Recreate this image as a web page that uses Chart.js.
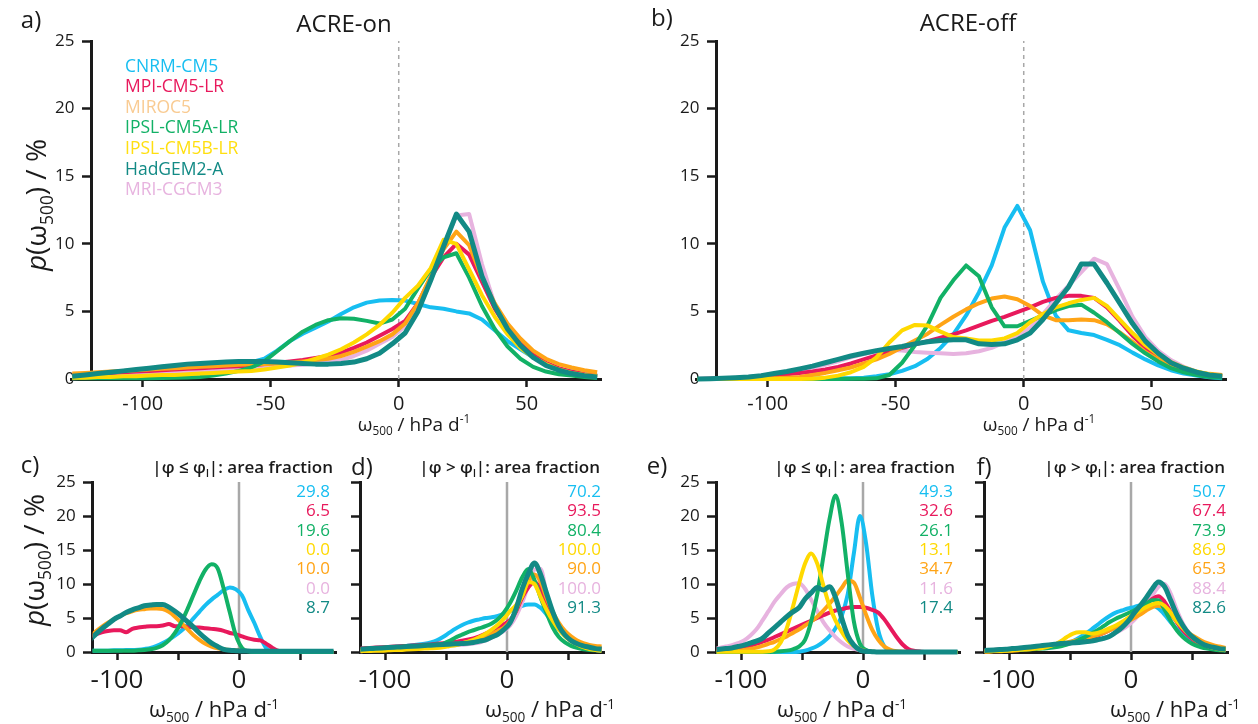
<!DOCTYPE html>
<html>
<head>
<meta charset="utf-8">
<title>p(omega500) distributions</title>
<script src="https://cdn.jsdelivr.net/npm/chart.js@4.4.1/dist/chart.umd.min.js"></script>
<style>
  body { margin: 0; background: #fff; font-family: "Open Sans", sans-serif; }
  #wrap { position: relative; width: 1258px; height: 724px; overflow: hidden; }
  canvas { position: absolute; left: 0; top: 0; }
  .t { position: absolute; white-space: nowrap; color: #1a1a1a; line-height: 1; }
  .c { transform: translate(-50%, -50%); }
  .rot { transform: translate(-50%, -50%) rotate(-90deg); }
  .r { transform: translateY(-50%); text-align: right; }
  sub { font-size: 0.62em; vertical-align: -0.4em; line-height: 0; }
  sup { font-size: 0.62em; vertical-align: 0.6em; line-height: 0; }
  .hdr { font-weight: 600; font-size: 17px; }
</style>
</head>
<body>
<div id="wrap">
  <canvas id="pa" width="1258" height="724"></canvas>
  <canvas id="pb" width="1258" height="724"></canvas>
  <canvas id="pc" width="1258" height="724"></canvas>
  <canvas id="pd" width="1258" height="724"></canvas>
  <canvas id="pe" width="1258" height="724"></canvas>
  <canvas id="pf" width="1258" height="724"></canvas>

  <div class="t c" style="left:31px;top:19px;font-size:24px">a)</div>
  <div class="t c" style="left:344px;top:23px;font-size:24px">ACRE-on</div>
  <div class="t c" style="left:662px;top:17px;font-size:24px">b)</div>
  <div class="t c" style="left:968px;top:22px;font-size:24px">ACRE-off</div>

  <div class="t rot" style="left:35px;top:205px;font-size:28px"><i>p</i>(ω<sub>500</sub>) / %</div>
  <div class="t c" style="left:414px;top:424px;font-size:19px">ω<sub>500</sub> / hPa d<sup>-1</sup></div>
  <div class="t c" style="left:1039px;top:424px;font-size:19px">ω<sub>500</sub> / hPa d<sup>-1</sup></div>

  <div class="t c" style="left:30px;top:464px;font-size:24px">c)</div>
  <div class="t c" style="left:362px;top:466px;font-size:24px">d)</div>
  <div class="t c" style="left:657px;top:465px;font-size:24px">e)</div>
  <div class="t c" style="left:984px;top:466px;font-size:24px">f)</div>

  <div class="t r hdr" style="right:925px;top:466px">|φ ≤ φ<sub>l</sub>|: area fraction</div>
  <div class="t r hdr" style="right:658px;top:466px">|φ &gt; φ<sub>l</sub>|: area fraction</div>
  <div class="t r hdr" style="right:303px;top:466px">|φ ≤ φ<sub>l</sub>|: area fraction</div>
  <div class="t r hdr" style="right:33px;top:466px">|φ &gt; φ<sub>l</sub>|: area fraction</div>

  <div class="t rot" style="left:33px;top:560px;font-size:28px"><i>p</i>(ω<sub>500</sub>) / %</div>
  <div class="t c" style="left:214px;top:708px;font-size:22px">ω<sub>500</sub> / hPa d<sup>-1</sup></div>
  <div class="t c" style="left:550px;top:708px;font-size:22px">ω<sub>500</sub> / hPa d<sup>-1</sup></div>
  <div class="t c" style="left:842px;top:708px;font-size:22px">ω<sub>500</sub> / hPa d<sup>-1</sup></div>
  <div class="t c" style="left:1175px;top:708px;font-size:22px">ω<sub>500</sub> / hPa d<sup>-1</sup></div>
</div>

<script>
// bin centres (hPa/d)
const omegaTop = [-127.5, -122.5, -117.5, -112.5, -107.5, -102.5, -97.5, -92.5, -87.5, -82.5, -77.5, -72.5, -67.5, -62.5, -57.5, -52.5, -47.5, -42.5, -37.5, -32.5, -27.5, -22.5, -17.5, -12.5, -7.5, -2.5, 2.5, 7.5, 12.5, 17.5, 22.5, 27.5, 32.5, 37.5, 42.5, 47.5, 52.5, 57.5, 62.5, 67.5, 72.5, 77.5];
const omegaBottom = [-122.5, -117.5, -112.5, -107.5, -102.5, -97.5, -92.5, -87.5, -82.5, -77.5, -72.5, -67.5, -62.5, -57.5, -52.5, -47.5, -42.5, -37.5, -32.5, -27.5, -22.5, -17.5, -12.5, -7.5, -2.5, 2.5, 7.5, 12.5, 17.5, 22.5, 27.5, 32.5, 37.5, 42.5, 47.5, 52.5, 57.5, 62.5, 67.5, 72.5, 77.5];

const xTicks = [-100, -50, 0, 50];
const yTicks = [0, 5, 10, 15, 20, 25];

// legend / model names
const modelKeys = ["CNRM", "MPI", "MIROC", "IPSLA", "IPSLB", "HadGEM", "MRI"];
const modelNames = ["CNRM-CM5", "MPI-CM5-LR", "MIROC5", "IPSL-CM5A-LR", "IPSL-CM5B-LR", "HadGEM2-A", "MRI-CGCM3"];

// a) ACRE-on, all latitudes
const aCNRM = [0.2, 0.3, 0.4, 0.5, 0.6, 0.65, 0.75, 0.85, 0.95, 1.0, 1.05, 1.1, 1.15, 1.2, 1.25, 1.5, 2.1, 2.8, 3.35, 3.8, 4.25, 4.8, 5.3, 5.65, 5.8, 5.85, 5.8, 5.55, 5.3, 5.2, 5.0, 4.85, 4.4, 3.6, 2.8, 2.2, 1.6, 1.1, 0.75, 0.55, 0.35, 0.25];
const aMPI = [0.3, 0.35, 0.4, 0.45, 0.5, 0.55, 0.6, 0.65, 0.7, 0.75, 0.8, 0.85, 0.9, 0.95, 1.0, 1.1, 1.2, 1.3, 1.4, 1.55, 1.7, 1.95, 2.3, 2.7, 3.2, 3.7, 4.3, 5.6, 7.5, 9.0, 10.0, 9.2, 7.2, 5.2, 3.7, 2.6, 1.8, 1.2, 0.8, 0.55, 0.35, 0.25];
const aMIROC = [0.4, 0.45, 0.5, 0.55, 0.6, 0.65, 0.7, 0.75, 0.8, 0.85, 0.9, 0.95, 1.0, 1.05, 1.1, 1.1, 1.15, 1.2, 1.3, 1.4, 1.5, 1.7, 2.0, 2.4, 2.8, 3.3, 4.1, 5.6, 7.6, 9.6, 10.9, 9.9, 7.5, 5.6, 4.1, 3.0, 2.1, 1.5, 1.1, 0.85, 0.65, 0.5];
const aIPSLA = [0.05, 0.05, 0.05, 0.05, 0.05, 0.05, 0.05, 0.08, 0.1, 0.12, 0.15, 0.25, 0.4, 0.6, 0.85, 1.3, 2.05, 2.8, 3.5, 4.0, 4.35, 4.5, 4.45, 4.3, 4.1, 4.4, 5.2, 6.7, 8.1, 9.0, 9.3, 7.5, 5.4, 3.7, 2.4, 1.5, 0.9, 0.55, 0.35, 0.25, 0.15, 0.08];
const aIPSLB = [0.1, 0.1, 0.15, 0.15, 0.2, 0.2, 0.25, 0.3, 0.3, 0.35, 0.4, 0.45, 0.5, 0.55, 0.6, 0.7, 0.85, 1.0, 1.2, 1.5, 1.8, 2.2, 2.7, 3.3, 4.0, 4.9, 6.0, 6.9, 8.2, 10.3, 10.0, 8.1, 6.2, 4.6, 3.3, 2.3, 1.6, 1.1, 0.7, 0.45, 0.3, 0.2];
const aHadGEM = [0.2, 0.3, 0.4, 0.5, 0.6, 0.7, 0.8, 0.9, 1.0, 1.1, 1.15, 1.2, 1.25, 1.3, 1.3, 1.3, 1.25, 1.2, 1.15, 1.1, 1.1, 1.15, 1.25, 1.5, 1.9, 2.6, 3.4, 5.0, 7.3, 9.8, 12.2, 10.9, 7.6, 5.4, 3.7, 2.5, 1.6, 1.0, 0.65, 0.4, 0.25, 0.15];
const aMRI = [0.05, 0.1, 0.15, 0.2, 0.25, 0.3, 0.35, 0.4, 0.45, 0.5, 0.55, 0.6, 0.7, 0.75, 0.85, 0.9, 0.95, 1.0, 1.05, 1.15, 1.25, 1.4, 1.7, 2.1, 2.6, 3.1, 3.9, 5.3, 7.3, 9.8, 12.1, 12.2, 8.5, 5.5, 3.9, 2.6, 1.7, 1.1, 0.7, 0.45, 0.3, 0.2];

// b) ACRE-off, all latitudes
const bCNRM = [0, 0, 0, 0, 0, 0, 0, 0.01, 0.02, 0.03, 0.04, 0.05, 0.05, 0.1, 0.2, 0.35, 0.6, 0.95, 1.5, 2.3, 3.3, 4.7, 6.4, 8.4, 11.2, 12.8, 11.0, 7.2, 4.7, 3.6, 3.4, 3.25, 2.9, 2.5, 1.95, 1.45, 1.0, 0.65, 0.4, 0.25, 0.12, 0.05];
const bMPI = [0, 0.02, 0.05, 0.08, 0.12, 0.18, 0.25, 0.35, 0.45, 0.55, 0.7, 0.9, 1.15, 1.45, 1.75, 2.0, 2.3, 2.55, 2.8, 3.05, 3.3, 3.6, 3.95, 4.3, 4.6, 4.95, 5.3, 5.7, 6.0, 6.15, 6.15, 6.0, 5.3, 4.3, 3.2, 2.3, 1.6, 1.1, 0.7, 0.45, 0.3, 0.2];
const bMIROC = [0, 0, 0, 0.02, 0.05, 0.05, 0.05, 0.1, 0.15, 0.3, 0.45, 0.65, 0.85, 1.15, 1.45, 1.85, 2.35, 2.85, 3.35, 4.0, 4.6, 5.15, 5.6, 5.95, 6.1, 5.9, 5.4, 4.7, 4.35, 4.35, 4.4, 4.35, 4.05, 3.45, 2.75, 2.0, 1.45, 1.0, 0.7, 0.5, 0.38, 0.3];
const bIPSLA = [0, 0, 0, 0, 0, 0, 0, 0, 0, 0, 0, 0, 0.01, 0.02, 0.05, 0.3, 1.2, 2.5, 4.0, 6.0, 7.3, 8.4, 7.6, 5.3, 3.9, 3.9, 4.3, 4.7, 5.1, 5.4, 5.5, 4.9, 4.2, 3.4, 2.6, 1.9, 1.3, 0.8, 0.5, 0.3, 0.15, 0.1];
const bIPSLB = [0, 0, 0, 0, 0, 0, 0, 0, 0, 0.02, 0.1, 0.25, 0.5, 0.9, 1.6, 2.7, 3.6, 4.0, 3.95, 3.5, 3.1, 3.0, 2.85, 2.85, 3.0, 3.4, 4.2, 4.8, 5.3, 5.6, 5.85, 6.0, 5.4, 4.4, 3.4, 2.5, 1.8, 1.25, 0.85, 0.55, 0.35, 0.2];
const bHadGEM = [0, 0.02, 0.05, 0.1, 0.15, 0.25, 0.4, 0.55, 0.75, 0.95, 1.2, 1.45, 1.7, 1.9, 2.1, 2.25, 2.4, 2.6, 2.75, 2.85, 2.9, 2.9, 2.6, 2.55, 2.6, 2.9, 3.4, 4.4, 5.6, 6.8, 8.5, 8.5, 7.1, 5.6, 4.1, 2.8, 1.9, 1.2, 0.8, 0.5, 0.3, 0.2];
const bMRI = [0, 0.03, 0.06, 0.1, 0.15, 0.25, 0.35, 0.5, 0.65, 0.85, 1.05, 1.3, 1.6, 1.85, 2.05, 2.15, 2.1, 2.0, 1.95, 1.9, 1.85, 1.9, 2.05, 2.3, 2.7, 3.2, 3.8, 4.8, 5.9, 6.9, 7.9, 8.9, 8.5, 6.6, 4.6, 3.1, 2.1, 1.4, 0.9, 0.55, 0.3, 0.15];

// c) ACRE-on, |phi| <= phi_l  (IPSL-CM5B-LR and MRI-CGCM3 have no area here)
const cCNRM = [0.2, 0.2, 0.2, 0.2, 0.25, 0.25, 0.3, 0.3, 0.35, 0.45, 0.6, 0.9, 1.3, 1.8, 2.4, 3.1, 3.9, 4.9, 5.9, 6.9, 7.7, 8.4, 9.1, 9.5, 9.2, 8.3, 6.2, 4.3, 2.2, 0.5, 0.1, 0, 0, 0, 0, 0, 0, 0, 0, 0, 0];
const cMPI = [2.2, 2.6, 2.9, 3.1, 3.2, 3.2, 2.9, 3.4, 3.6, 3.7, 3.8, 3.8, 3.9, 4.1, 3.8, 3.8, 3.7, 3.6, 3.6, 3.5, 3.4, 3.3, 3.1, 2.8, 2.6, 2.3, 2.0, 1.8, 1.7, 1.2, 0.6, 0.15, 0.05, 0, 0, 0, 0, 0, 0, 0, 0];
const cMIROC = [2.2, 3.0, 3.7, 4.3, 4.8, 5.3, 5.7, 6.0, 6.2, 6.3, 6.4, 6.4, 6.3, 5.9, 5.2, 4.3, 3.4, 2.5, 1.8, 1.2, 0.8, 0.55, 0.4, 0.3, 0.25, 0.2, 0.15, 0.1, 0.05, 0, 0, 0, 0, 0, 0, 0, 0, 0, 0, 0, 0];
const cIPSLA = [0.2, 0.2, 0.2, 0.2, 0.2, 0.2, 0.2, 0.2, 0.25, 0.3, 0.4, 0.6, 1.0, 1.7, 2.8, 4.3, 6.2, 8.3, 10.4, 12.1, 12.9, 12.3, 9.3, 5.8, 2.4, 0.6, 0.1, 0, 0, 0, 0, 0, 0, 0, 0, 0, 0, 0, 0, 0, 0];
const cHadGEM = [1.7, 2.6, 3.4, 4.1, 4.8, 5.3, 5.8, 6.2, 6.5, 6.8, 6.9, 7.0, 7.0, 6.6, 6.0, 5.3, 4.5, 3.7, 2.8, 2.0, 1.3, 0.8, 0.4, 0.25, 0.2, 0.15, 0.15, 0.1, 0.1, 0.1, 0.1, 0.1, 0.1, 0.1, 0.1, 0.1, 0.1, 0.1, 0.1, 0.1, 0.1];

// d) ACRE-on, |phi| > phi_l
const dCNRM = [0.4, 0.45, 0.5, 0.55, 0.6, 0.7, 0.75, 0.8, 0.9, 1.0, 1.1, 1.2, 1.4, 1.7, 2.2, 2.8, 3.4, 3.9, 4.3, 4.6, 4.8, 5.0, 5.1, 5.3, 5.6, 6.0, 6.4, 6.8, 7.0, 7.0, 6.5, 5.5, 4.4, 3.3, 2.5, 1.9, 1.5, 1.2, 0.9, 0.7, 0.6];
const dMPI = [0.5, 0.55, 0.6, 0.65, 0.7, 0.75, 0.8, 0.85, 0.9, 0.95, 1.0, 1.05, 1.1, 1.2, 1.3, 1.4, 1.5, 1.65, 1.8, 2.0, 2.3, 2.7, 3.1, 3.6, 4.1, 4.7, 6.0, 8.0, 9.5, 10.3, 9.3, 7.2, 5.2, 3.7, 2.6, 1.8, 1.3, 0.9, 0.7, 0.5, 0.4];
const dMIROC = [0.4, 0.45, 0.5, 0.55, 0.6, 0.65, 0.7, 0.75, 0.8, 0.85, 0.9, 0.95, 1.0, 1.05, 1.1, 1.15, 1.2, 1.3, 1.45, 1.6, 1.85, 2.2, 2.6, 3.1, 3.6, 4.5, 6.2, 8.4, 10.4, 11.4, 10.3, 7.9, 5.9, 4.3, 3.1, 2.3, 1.7, 1.3, 1.05, 0.9, 0.8];
const dIPSLA = [0.3, 0.3, 0.3, 0.35, 0.35, 0.4, 0.4, 0.45, 0.5, 0.55, 0.6, 0.7, 0.8, 0.95, 1.2, 1.6, 2.1, 2.5, 2.9, 3.2, 3.5, 3.8, 4.2, 4.8, 5.8, 7.2, 9.0, 11.0, 12.2, 10.6, 8.0, 5.7, 3.6, 2.2, 1.4, 0.9, 0.6, 0.4, 0.3, 0.25, 0.2];
const dIPSLB = [0.1, 0.15, 0.15, 0.2, 0.2, 0.25, 0.3, 0.3, 0.35, 0.4, 0.45, 0.5, 0.55, 0.6, 0.7, 0.85, 1.0, 1.2, 1.5, 1.8, 2.2, 2.7, 3.3, 4.0, 4.9, 6.0, 6.9, 8.2, 10.3, 10.0, 8.1, 6.2, 4.6, 3.3, 2.3, 1.6, 1.1, 0.7, 0.45, 0.3, 0.2];
const dHadGEM = [0.4, 0.45, 0.5, 0.55, 0.6, 0.65, 0.7, 0.75, 0.8, 0.85, 0.9, 0.95, 1.0, 1.05, 1.1, 1.15, 1.2, 1.25, 1.3, 1.4, 1.6, 1.8, 2.2, 2.6, 3.3, 4.3, 6.4, 9.3, 11.5, 13.1, 11.4, 8.6, 5.9, 3.8, 2.5, 1.7, 1.2, 0.9, 0.7, 0.5, 0.4];
const dMRI = [0.1, 0.15, 0.2, 0.25, 0.3, 0.35, 0.4, 0.45, 0.5, 0.55, 0.6, 0.7, 0.75, 0.85, 0.9, 0.95, 1.0, 1.05, 1.15, 1.25, 1.4, 1.7, 2.1, 2.6, 3.1, 3.9, 5.3, 7.3, 9.8, 12.1, 12.2, 8.5, 5.5, 3.9, 2.6, 1.7, 1.1, 0.7, 0.45, 0.3, 0.2];

// e) ACRE-off, |phi| <= phi_l
const eCNRM = [0, 0, 0, 0, 0, 0, 0, 0, 0, 0, 0, 0, 0, 0, 0.05, 0.2, 0.5, 0.9, 1.5, 2.3, 3.5, 5.3, 8.5, 14.5, 20.0, 16.0, 8.5, 3.2, 0.8, 0.2, 0.05, 0, 0, 0, 0, 0, 0, 0, 0, 0, 0];
const eMPI = [0.2, 0.3, 0.4, 0.5, 0.6, 0.75, 0.95, 1.2, 1.5, 1.8, 2.2, 2.6, 3.0, 3.4, 3.8, 4.2, 4.6, 5.0, 5.4, 5.8, 6.1, 6.3, 6.5, 6.6, 6.6, 6.5, 6.2, 5.8, 4.8, 3.5, 2.2, 1.1, 0.4, 0.15, 0.05, 0, 0, 0, 0, 0, 0];
const eMIROC = [0.05, 0.05, 0.1, 0.15, 0.2, 0.3, 0.45, 0.65, 0.9, 1.2, 1.5, 1.9, 2.3, 2.8, 3.3, 3.9, 4.5, 5.2, 6.1, 7.1, 8.2, 9.4, 10.5, 10.2, 8.0, 5.5, 3.3, 1.8, 0.8, 0.3, 0.1, 0.05, 0, 0, 0, 0, 0, 0, 0, 0, 0];
const eIPSLA = [0, 0, 0, 0, 0, 0, 0, 0, 0, 0, 0.05, 0.1, 0.2, 0.4, 0.8, 1.8, 4.5, 8.5, 14.0, 19.5, 23.0, 19.0, 11.5, 4.5, 1.2, 0.3, 0.05, 0, 0, 0, 0, 0, 0, 0, 0, 0, 0, 0, 0, 0, 0];
const eIPSLB = [0.05, 0.05, 0.05, 0.05, 0.05, 0.05, 0.05, 0.05, 0.05, 0.1, 0.4, 1.4, 3.5, 6.6, 10.0, 13.0, 14.5, 13.0, 9.8, 6.8, 4.6, 3.0, 1.7, 0.9, 0.4, 0.15, 0.05, 0, 0, 0, 0, 0, 0, 0, 0, 0, 0, 0, 0, 0, 0];
const eHadGEM = [0.3, 0.4, 0.5, 0.6, 0.8, 1.0, 1.3, 1.6, 2.0, 2.8, 3.6, 4.4, 5.2, 5.9, 6.5, 7.8, 8.7, 9.5, 9.1, 9.6, 8.0, 5.0, 2.4, 1.0, 0.3, 0.1, 0.05, 0, 0, 0, 0, 0, 0, 0, 0, 0, 0, 0, 0, 0, 0];
const eMRI = [0.5, 0.6, 0.8, 1.0, 1.3, 1.7, 2.4, 3.3, 4.6, 6.0, 7.4, 8.5, 9.5, 10.0, 10.1, 9.3, 7.7, 6.0, 4.4, 3.2, 2.2, 1.4, 0.8, 0.45, 0.25, 0.1, 0.05, 0, 0, 0, 0, 0, 0, 0, 0, 0, 0, 0, 0, 0, 0];

// f) ACRE-off, |phi| > phi_l
const fCNRM = [0.2, 0.2, 0.25, 0.3, 0.35, 0.4, 0.45, 0.5, 0.55, 0.6, 0.65, 0.7, 0.8, 0.95, 1.2, 1.6, 2.1, 2.7, 3.3, 4.0, 4.7, 5.3, 5.8, 6.1, 6.4, 6.6, 6.9, 7.0, 6.9, 6.4, 5.5, 4.4, 3.4, 2.6, 1.9, 1.4, 1.0, 0.75, 0.55, 0.4, 0.3];
const fMPI = [0.2, 0.25, 0.3, 0.35, 0.4, 0.45, 0.5, 0.55, 0.6, 0.7, 0.8, 0.9, 1.0, 1.1, 1.3, 1.5, 1.7, 1.9, 2.1, 2.4, 2.8, 3.2, 3.7, 4.2, 4.8, 5.5, 6.2, 7.0, 7.8, 8.2, 7.4, 5.9, 4.4, 3.2, 2.3, 1.6, 1.1, 0.8, 0.55, 0.4, 0.3];
const fMIROC = [0.05, 0.05, 0.1, 0.1, 0.15, 0.2, 0.25, 0.35, 0.45, 0.55, 0.7, 0.85, 1.0, 1.2, 1.4, 1.6, 1.8, 2.0, 2.2, 2.5, 2.8, 3.2, 3.6, 4.0, 4.5, 5.0, 5.5, 6.1, 6.6, 6.8, 6.4, 5.5, 4.5, 3.6, 2.8, 2.2, 1.7, 1.3, 1.0, 0.8, 0.6];
const fIPSLA = [0.2, 0.2, 0.2, 0.25, 0.25, 0.3, 0.3, 0.35, 0.4, 0.45, 0.5, 0.6, 0.7, 0.85, 1.1, 1.4, 1.8, 2.2, 2.7, 3.2, 3.8, 4.4, 4.9, 5.3, 5.7, 6.1, 6.6, 7.1, 7.6, 7.6, 6.2, 4.6, 3.2, 2.2, 1.5, 1.0, 0.7, 0.5, 0.35, 0.25, 0.2];
const fIPSLB = [0.1, 0.1, 0.15, 0.15, 0.2, 0.25, 0.3, 0.35, 0.4, 0.5, 0.6, 0.8, 1.1, 1.6, 2.2, 2.7, 2.9, 2.9, 2.7, 2.8, 3.1, 3.5, 3.9, 4.4, 5.0, 5.6, 6.1, 6.6, 7.0, 7.2, 6.8, 5.8, 4.6, 3.5, 2.6, 1.8, 1.3, 0.9, 0.6, 0.4, 0.3];
const fHadGEM = [0.2, 0.25, 0.3, 0.35, 0.4, 0.5, 0.55, 0.65, 0.75, 0.85, 0.95, 1.05, 1.15, 1.25, 1.3, 1.35, 1.4, 1.5, 1.6, 1.8, 2.0, 2.3, 2.9, 3.6, 4.5, 5.7, 6.8, 8.0, 9.3, 10.3, 9.6, 7.6, 5.5, 3.9, 2.7, 1.9, 1.3, 0.9, 0.7, 0.5, 0.4];
const fMRI = [0.1, 0.15, 0.2, 0.25, 0.3, 0.35, 0.4, 0.5, 0.6, 0.7, 0.8, 0.9, 1.0, 1.1, 1.2, 1.3, 1.4, 1.5, 1.6, 1.8, 2.0, 2.4, 2.8, 3.3, 3.9, 4.7, 5.7, 6.9, 8.3, 9.6, 10.0, 8.6, 6.2, 4.2, 2.8, 1.8, 1.2, 0.8, 0.5, 0.35, 0.25];

// area fractions (%), listed in the order shown on the panels
const fractionKeys = ["CNRM", "MPI", "IPSLA", "IPSLB", "MIROC", "MRI", "HadGEM"];
const fracC = [29.8, 6.5, 19.6, 0.0, 10.0, 0.0, 8.7];
const fracD = [70.2, 93.5, 80.4, 100.0, 90.0, 100.0, 91.3];
const fracE = [49.3, 32.6, 26.1, 13.1, 34.7, 11.6, 17.4];
const fracF = [50.7, 67.4, 73.9, 86.9, 65.3, 88.4, 82.6];

const W = 1258, H = 724;
const ink = "#1a1a1a";
const fontFamily = "'Open Sans', sans-serif";
const lineColor = { CNRM: "#17BEF1", MPI: "#E8195C", MIROC: "#FFA416", IPSLA: "#12B166", IPSLB: "#FFD900", HadGEM: "#128A85", MRI: "#E7B3DF" };
const textColor = Object.assign({}, lineColor, { MIROC: "#F9CB92", IPSLB: "#FFDF10" });
const drawOrder = { HadGEM: 1, IPSLB: 2, IPSLA: 3, MIROC: 4, MPI: 5, MRI: 6, CNRM: 7 };

function addText(html, style) {
  const d = document.createElement("div");
  d.className = "t";
  d.innerHTML = html;
  Object.assign(d.style, style);
  document.getElementById("wrap").appendChild(d);
}

function makePanel(id, cfg) {
  const datasets = cfg.series.map(([key, values]) => ({
    data: cfg.omega.map((w, i) => ({ x: w, y: values[i] })),
    borderColor: lineColor[key],
    borderWidth: key === "HadGEM" ? cfg.lw + 1 : cfg.lw,
    pointRadius: 0,
    tension: cfg.smooth ? 0.4 : 0,
    cubicInterpolationMode: cfg.smooth ? "monotone" : "default",
    borderJoinStyle: "round",
    order: drawOrder[key],
    clip: { left: 0, top: 10, right: 10, bottom: 10 }
  }));
  // omega = 0 reference line
  datasets.push({
    data: [{ x: 0, y: 0 }, { x: 0, y: 25 }],
    borderColor: cfg.zeroColor,
    borderWidth: cfg.zeroWidth,
    borderDash: cfg.zeroDash,
    pointRadius: 0,
    order: 20
  });

  const tickGrid = { drawOnChartArea: false, drawTicks: true, tickLength: 8, tickWidth: 2.5, tickColor: ink };
  const axisBorder = { color: ink, width: 3 };

  new Chart(document.getElementById(id), {
    type: "line",
    data: { datasets },
    options: {
      responsive: false,
      animation: false,
      devicePixelRatio: 1,
      events: [],
      layout: { padding: { left: cfg.box.left, top: cfg.box.top, right: W - cfg.box.right, bottom: 0 } },
      plugins: { legend: { display: false }, tooltip: { enabled: false } },
      scales: {
        x: {
          type: "linear",
          min: cfg.xmin,
          max: cfg.xmax,
          afterFit: s => { s.height = H - cfg.box.bottom; },
          afterBuildTicks: s => { s.ticks = xTicks.map(v => ({ value: v })); },
          ticks: {
            autoSkip: false, maxRotation: 0, color: ink, padding: cfg.xPad,
            font: { family: fontFamily, size: cfg.xFont },
            callback: v => (cfg.xLabels.includes(v) ? String(v) : "")
          },
          grid: tickGrid,
          border: axisBorder
        },
        y: {
          type: "linear",
          min: 0,
          max: 25,
          position: { x: -120 },
          afterBuildTicks: s => { s.ticks = yTicks.map(v => ({ value: v })); },
          ticks: {
            display: cfg.yLabels, color: ink, font: { family: fontFamily, size: 17 },
            // labels of an axis placed at a data value sit on the axis line; an em space keeps them clear of the ticks
            callback: v => String(v) + "\u2003"
          },
          grid: tickGrid,
          border: axisBorder
        }
      }
    }
  });
}

const topCfg = { omega: omegaTop, xmin: -128, xmax: 79, lw: 4, smooth: false, xFont: 20, xPad: 5,
  xLabels: [-100, -50, 0, 50], yLabels: true, zeroColor: "#a8a8a8", zeroWidth: 1.5, zeroDash: [4, 4] };
const bottomCfg = { omega: omegaBottom, xmin: -120, xmax: 80, lw: 4, smooth: true, xFont: 26, xPad: 5,
  xLabels: [-100, 0], zeroColor: "#a8a8a8", zeroWidth: 2.5, zeroDash: [] };

makePanel("pa", Object.assign({}, topCfg, {
  box: { left: 71, top: 41, right: 601, bottom: 379 },
  series: [["CNRM", aCNRM], ["MPI", aMPI], ["MIROC", aMIROC], ["IPSLA", aIPSLA], ["IPSLB", aIPSLB], ["HadGEM", aHadGEM], ["MRI", aMRI]]
}));
makePanel("pb", Object.assign({}, topCfg, {
  box: { left: 696, top: 41, right: 1226, bottom: 379 },
  series: [["CNRM", bCNRM], ["MPI", bMPI], ["MIROC", bMIROC], ["IPSLA", bIPSLA], ["IPSLB", bIPSLB], ["HadGEM", bHadGEM], ["MRI", bMRI]]
}));
makePanel("pc", Object.assign({}, bottomCfg, {
  box: { left: 92.6, top: 482, right: 336.6, bottom: 652 }, yLabels: true,
  series: [["CNRM", cCNRM], ["MPI", cMPI], ["MIROC", cMIROC], ["IPSLA", cIPSLA], ["HadGEM", cHadGEM]]
}));
makePanel("pd", Object.assign({}, bottomCfg, {
  box: { left: 360.6, top: 482, right: 604.6, bottom: 652 }, yLabels: false,
  series: [["CNRM", dCNRM], ["MPI", dMPI], ["MIROC", dMIROC], ["IPSLA", dIPSLA], ["IPSLB", dIPSLB], ["HadGEM", dHadGEM], ["MRI", dMRI]]
}));
makePanel("pe", Object.assign({}, bottomCfg, {
  box: { left: 716.6, top: 482, right: 960.6, bottom: 652 }, yLabels: true,
  series: [["CNRM", eCNRM], ["MPI", eMPI], ["MIROC", eMIROC], ["IPSLA", eIPSLA], ["IPSLB", eIPSLB], ["HadGEM", eHadGEM], ["MRI", eMRI]]
}));
makePanel("pf", Object.assign({}, bottomCfg, {
  box: { left: 984.6, top: 482, right: 1228.6, bottom: 652 }, yLabels: false,
  series: [["CNRM", fCNRM], ["MPI", fMPI], ["MIROC", fMIROC], ["IPSLA", fIPSLA], ["IPSLB", fIPSLB], ["HadGEM", fHadGEM], ["MRI", fMRI]]
}));

// model legend in panel a
modelNames.forEach((name, i) => {
  addText(name, { left: "125px", top: (65.5 + i * 20.6) + "px", transform: "translateY(-50%)",
    fontSize: "17.5px", color: textColor[modelKeys[i]] });
});

// area fraction columns
[[fracC, 330], [fracD, 601], [fracE, 953], [fracF, 1226]].forEach(([fr, rightEdge]) => {
  fr.forEach((v, i) => {
    addText(v.toFixed(1), { right: (W - rightEdge) + "px", top: (490 + i * 19.3) + "px",
      transform: "translateY(-50%)", fontSize: "17px", color: lineColor[fractionKeys[i]] });
  });
});
</script>
</body>
</html>
